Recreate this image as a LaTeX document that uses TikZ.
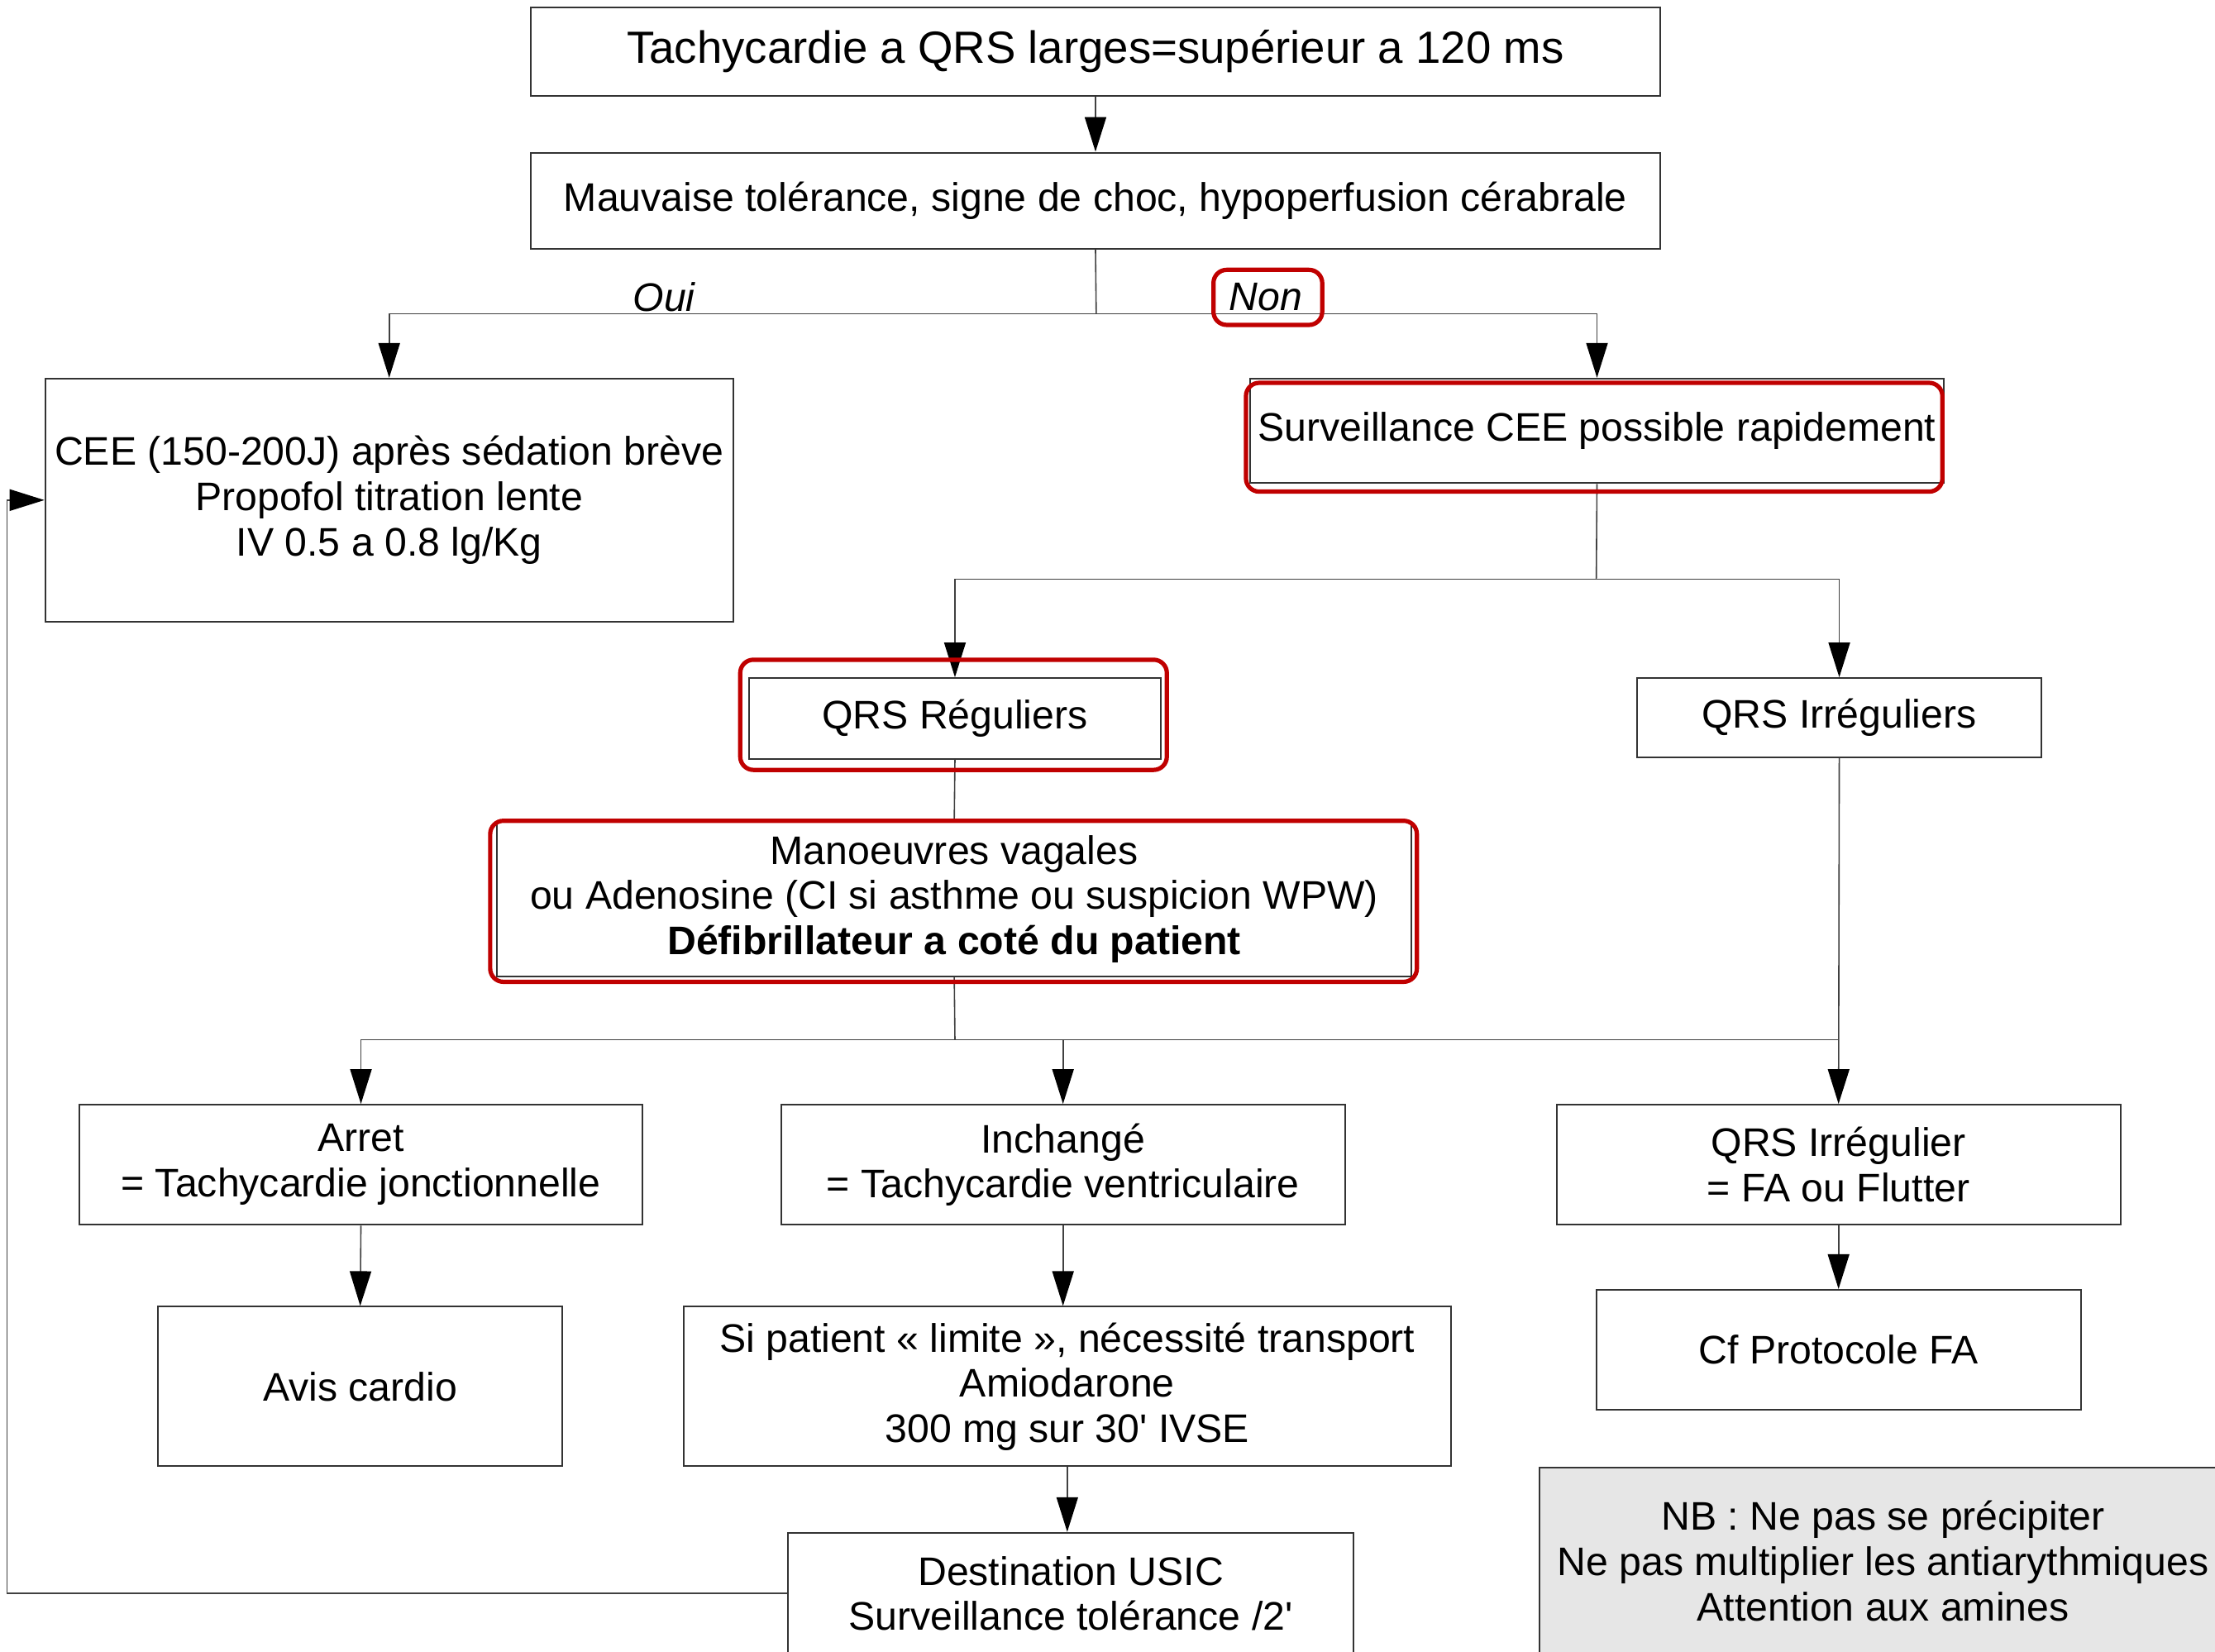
\documentclass[tikz,border=0pt]{standalone}
\usepackage{fontspec}
\setmainfont{Liberation Sans}
\usetikzlibrary{arrows.meta,fit}
\definecolor{hlred}{RGB}{192,0,0}
\definecolor{nbgray}{RGB}{230,230,230}
\begin{document}
\begin{tikzpicture}[x=0.854275pt,y=-0.854275pt,
  box/.style={draw=black!80, line width=1pt, inner sep=0pt, align=center,
    font=\fontsize{24.1pt}{27.3pt}\selectfont},
  sz/.style 2 args={minimum width=#1*0.854275pt, minimum height=#2*0.854275pt},
  titlebox/.style={box, font=\fontsize{27.3pt}{31pt}\selectfont},
  lbl/.style={inner sep=0pt, font=\fontsize{24.1pt}{27.3pt}\selectfont\itshape},
  hl/.style={draw=hlred, line width=2.6pt, rounded corners=8pt, inner sep=0pt},
  conn/.style={draw=black!75, line width=0.8pt},
  arr/.style={conn, -{Triangle[length=21pt, width=13pt, color=black]}}
]
\useasboundingbox (0,0) rectangle (1568,1169);
\clip (0,0) rectangle (1568,1169);
\fill[white] (0,0) rectangle (1568,1169);

% boxes
\node[titlebox, sz={799}{63}] (box1) at (775.5,36.5) {Tachycardie a QRS larges=supérieur a 120 ms};
\node[box, sz={799}{68}] (box2) at (775.5,142) {Mauvaise tolérance, signe de choc, hypoperfusion cérabrale};
\node[box, sz={487}{172}] (box3) at (275.5,354) {CEE (150-200J) après sédation brève\\Propofol titration lente\\IV 0.5 a 0.8 lg/Kg};
\node[box, sz={491}{74}] (box4) at (1130.5,305) {Surveillance CEE possible rapidement};
\node[box, sz={292}{57}] (box5) at (676,508.5) {QRS Réguliers};
\node[box, sz={286}{56}] (box6) at (1302,508) {QRS Irréguliers};
\node[box, sz={647}{109}] (box7) at (675.5,636.5) {Manoeuvres vagales\\ou Adenosine (CI si asthme ou suspicion WPW)\\\textbf{Défibrillateur a coté du patient}};
\node[box, sz={399}{85}] (box8) at (255.5,824.5) {Arret\\= Tachycardie jonctionnelle};
\node[box, sz={399}{85}] (box9) at (752.5,824.5) {Inchangé\\= Tachycardie ventriculaire};
\node[box, sz={399}{85}] (box10) at (1301.5,824.5) {QRS Irrégulier\\= FA ou Flutter};
\node[box, sz={286}{113}] (box11) at (255,981.5) {Avis cardio};
\node[box, sz={543}{113}] (box12) at (755.5,981.5) {Si patient « limite », nécessité transport\\Amiodarone\\300 mg sur 30\textquotesingle{} IVSE};
\node[box, sz={343}{85}] (box13) at (1301.5,955.5) {Cf Protocole FA};
\node[box, sz={400}{86}] (box14) at (758,1128) {Destination USIC\\Surveillance tolérance /2\textquotesingle};
\node[box, fill=nbgray, sz={486}{132}] (nb) at (1333,1105) {NB : Ne pas se précipiter\\Ne pas multiplier les antiarythmiques\\Attention aux amines};

% labels
\node[lbl] (oui) at (470,210) {Oui};
\node[lbl] (non) at (896,210) {Non};

% junctions
\coordinate (j1) at (776,222);
\coordinate (j2) at (1130,410);
\coordinate (j3) at (676,736);
\coordinate (lc) at (5,0);

% connectors
\draw[arr] (box1) -- (box2);
\draw[conn] (box2.south) -- (j1);
\draw[arr] (j1) -| (box3.north);
\draw[arr] (j1) -| (box4.north);
\draw[conn] (box4.south) -- (j2);
\draw[arr] (j2) -| (box5.north);
\draw[arr] (j2) -| (box6.north);
\draw[conn] (box5.south) -- (box7.north);
\draw[conn] (box7.south) -- (j3);
\draw[arr] (j3) -| (box8.north);
\draw[arr] (j3) -| (box9.north);
\draw[conn] (j3) -- (j3 -| box10.north);
\draw[arr] (box6.south) -- (box10.north);
\draw[arr] (box8.south) -- (box11.north);
\draw[arr] (box9.south) -- (box9.south |- box12.north);
\draw[arr] (box10.south) -- (box13.north);
\draw[arr] (box12.south) -- (box12.south |- box14.north);
\draw[arr] (box14.west) -| (lc |- box3.west) -- (box3.west);

% red highlights
\node[hl, fit={(859,191) (936,230)}] (hlnon) {};
\node[hl, fit={(882,271) (1375,348)}] (hlsurv) {};
\node[hl, fit={(524,467) (826,545)}] (hlreg) {};
\node[hl, fit={(347,581) (1003,695)}] (hlman) {};
\end{tikzpicture}
\end{document}
